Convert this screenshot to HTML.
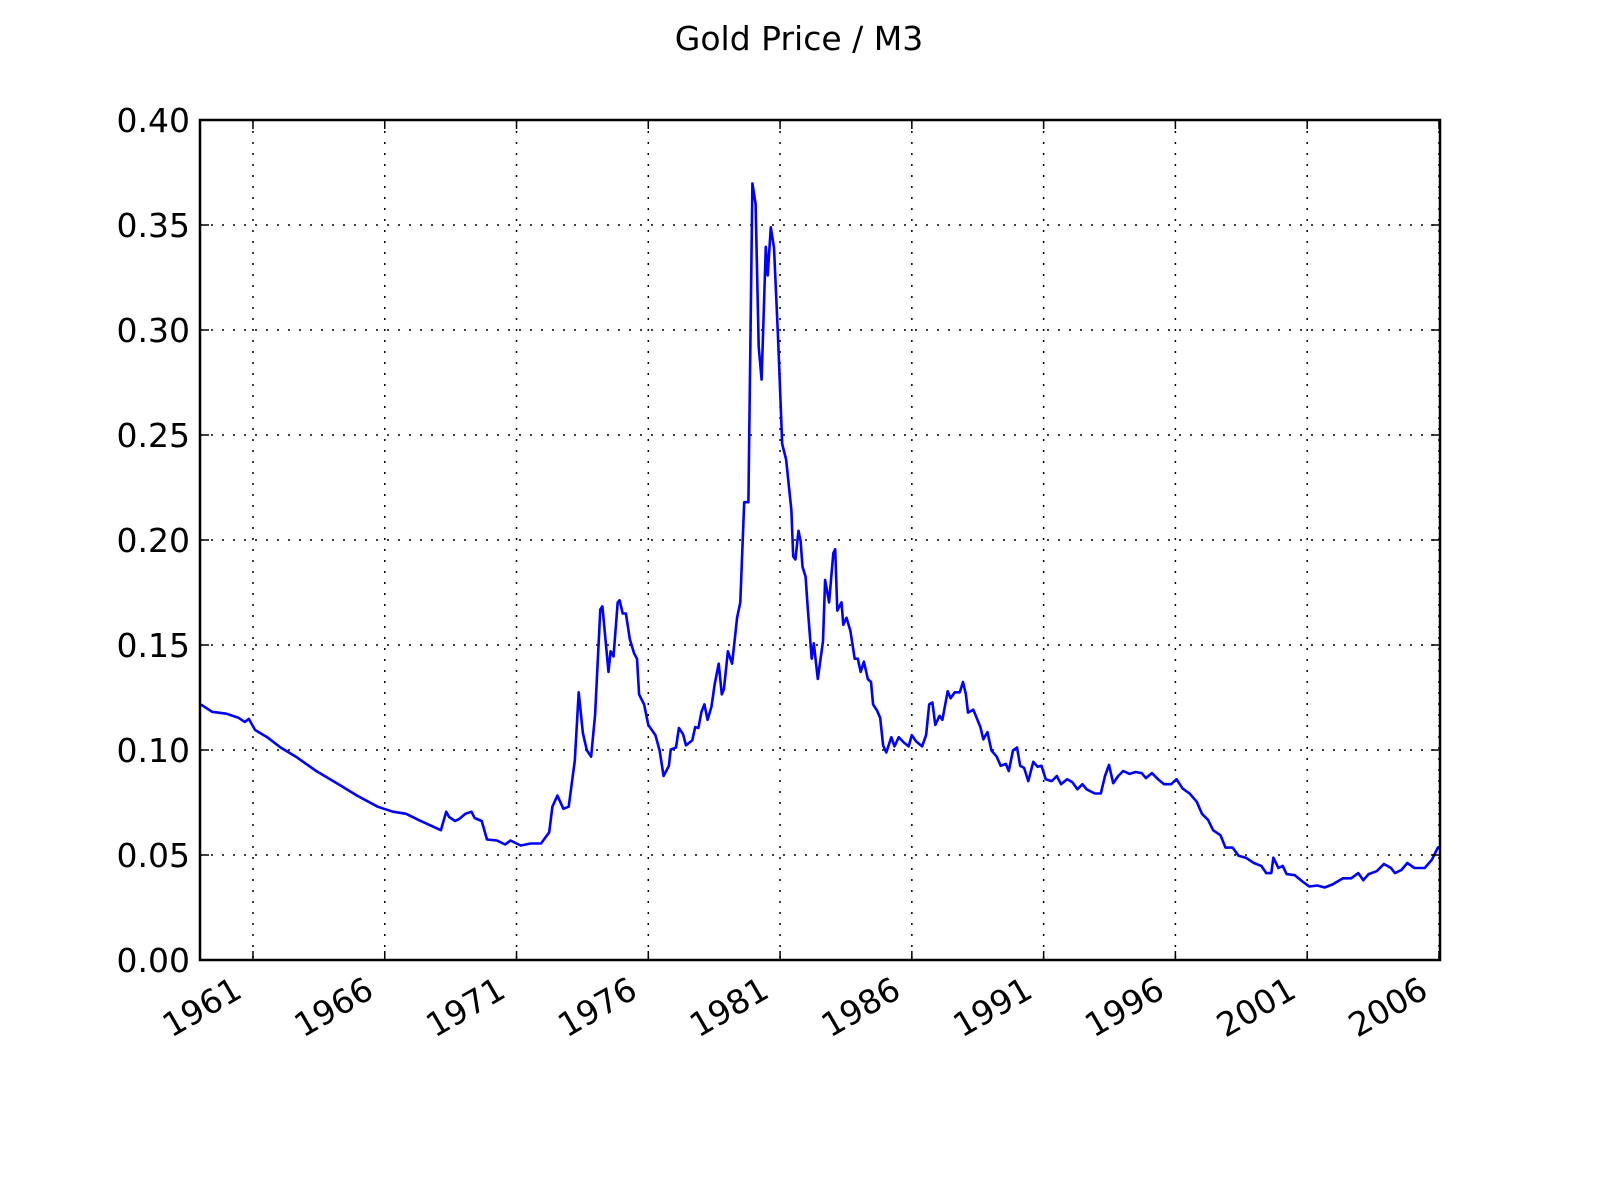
<!DOCTYPE html>
<html><head><meta charset="utf-8"><style>
html,body{margin:0;padding:0;background:#fff;}
svg{display:block;font-family:"DejaVu Sans","Liberation Sans",sans-serif;}
</style></head><body>
<svg id="chart" width="1600" height="1200" viewBox="0 0 1600 1200" xmlns="http://www.w3.org/2000/svg">
<rect width="1600" height="1200" fill="#fff"/>
<text x="799" y="50" text-anchor="middle" font-size="33">Gold Price / M3</text>
<g id="grid"></g>
<g id="series"></g>
<rect x="200" y="120" width="1240" height="840" fill="none" stroke="#000" stroke-width="2.5"/>
<g id="axes"></g>
</svg>
<script>
const years = [1959.02,1959.45,1959.99,1960.46,1960.69,1960.84,1961.08,1961.54,1962.05,1962.63,1963.40,1964.18,1964.95,1965.73,1966.31,1966.81,1967.28,1968.13,1968.33,1968.44,1968.67,1968.83,1969.06,1969.29,1969.41,1969.68,1969.88,1970.26,1970.57,1970.77,1971.16,1971.54,1971.93,1972.24,1972.36,1972.55,1972.78,1972.98,1973.21,1973.36,1973.52,1973.67,1973.83,1973.98,1974.18,1974.26,1974.49,1974.57,1974.68,1974.84,1974.91,1975.03,1975.15,1975.30,1975.46,1975.57,1975.65,1975.84,1976.00,1976.27,1976.43,1976.58,1976.78,1976.85,1977.05,1977.16,1977.32,1977.43,1977.67,1977.78,1977.90,1978.02,1978.13,1978.25,1978.40,1978.52,1978.67,1978.79,1978.87,1979.02,1979.18,1979.37,1979.49,1979.64,1979.80,1979.95,1980.07,1980.19,1980.30,1980.46,1980.53,1980.65,1980.77,1980.92,1981.08,1981.23,1981.43,1981.50,1981.58,1981.70,1981.78,1981.85,1981.97,1982.05,1982.20,1982.28,1982.43,1982.63,1982.71,1982.86,1983.02,1983.09,1983.17,1983.33,1983.40,1983.52,1983.67,1983.83,1983.95,1984.06,1984.18,1984.33,1984.45,1984.53,1984.68,1984.80,1984.91,1985.03,1985.22,1985.34,1985.50,1985.69,1985.88,1986.00,1986.16,1986.39,1986.54,1986.66,1986.78,1986.89,1987.05,1987.16,1987.36,1987.47,1987.63,1987.82,1987.94,1988.05,1988.13,1988.33,1988.44,1988.60,1988.71,1988.87,1989.02,1989.22,1989.37,1989.57,1989.68,1989.84,1989.99,1990.11,1990.26,1990.42,1990.61,1990.77,1990.92,1991.08,1991.31,1991.50,1991.66,1991.89,1992.09,1992.28,1992.47,1992.63,1992.94,1993.17,1993.33,1993.48,1993.64,1993.83,1994.02,1994.26,1994.49,1994.72,1994.88,1995.11,1995.34,1995.57,1995.84,1996.04,1996.27,1996.54,1996.81,1997.01,1997.24,1997.43,1997.71,1997.90,1998.17,1998.40,1998.67,1998.98,1999.26,1999.45,1999.64,1999.72,1999.91,2000.07,2000.22,2000.53,2000.81,2001.08,2001.39,2001.66,2001.97,2002.36,2002.67,2002.94,2003.13,2003.33,2003.64,2003.91,2004.18,2004.33,2004.57,2004.80,2005.07,2005.46,2005.73,2005.96,2006.04];
const values = [0.1217,0.1182,0.1173,0.1153,0.1134,0.1148,0.1095,0.1061,0.1012,0.0968,0.0900,0.0842,0.0783,0.0730,0.0706,0.0696,0.0667,0.0618,0.0706,0.0681,0.0662,0.0672,0.0696,0.0706,0.0676,0.0662,0.0574,0.0569,0.0550,0.0569,0.0545,0.0555,0.0555,0.0608,0.0730,0.0783,0.0720,0.0730,0.0949,0.1275,0.1080,0.0998,0.0968,0.1168,0.1669,0.1684,0.1372,0.1470,0.1445,0.1703,0.1713,0.1650,0.1650,0.1528,0.1460,0.1435,0.1265,0.1217,0.1119,0.1071,0.0998,0.0876,0.0925,0.1002,0.1012,0.1105,0.1075,0.1022,0.1046,0.1109,0.1105,0.1182,0.1217,0.1144,0.1207,0.1314,0.1411,0.1265,0.1289,0.1470,0.1411,0.1630,0.1703,0.2180,0.2180,0.3698,0.3601,0.2920,0.2764,0.3396,0.3260,0.3489,0.3392,0.2968,0.2457,0.2384,0.2141,0.1922,0.1907,0.2044,0.1995,0.1873,0.1825,0.1679,0.1435,0.1508,0.1338,0.1518,0.1810,0.1703,0.1937,0.1956,0.1664,0.1703,0.1596,0.1630,0.1567,0.1435,0.1435,0.1372,0.1421,0.1338,0.1324,0.1217,0.1187,0.1153,0.1022,0.0988,0.1061,0.1017,0.1061,0.1036,0.1017,0.1071,0.1041,0.1017,0.1071,0.1217,0.1226,0.1119,0.1163,0.1144,0.1280,0.1246,0.1275,0.1275,0.1324,0.1265,0.1178,0.1192,0.1158,0.1109,0.1051,0.1085,0.0998,0.0968,0.0925,0.0934,0.0900,0.0998,0.1012,0.0925,0.0915,0.0852,0.0944,0.0920,0.0925,0.0861,0.0852,0.0876,0.0837,0.0861,0.0847,0.0813,0.0837,0.0813,0.0793,0.0793,0.0876,0.0929,0.0842,0.0876,0.0900,0.0886,0.0895,0.0890,0.0866,0.0890,0.0861,0.0837,0.0837,0.0861,0.0817,0.0793,0.0754,0.0696,0.0667,0.0618,0.0594,0.0535,0.0535,0.0496,0.0487,0.0462,0.0448,0.0414,0.0414,0.0487,0.0438,0.0448,0.0409,0.0404,0.0375,0.0350,0.0355,0.0345,0.0360,0.0389,0.0389,0.0414,0.0380,0.0409,0.0423,0.0457,0.0438,0.0414,0.0428,0.0462,0.0438,0.0438,0.0477,0.0535,0.0535];
const xTicks = [1961,1966,1971,1976,1981,1986,1991,1996,2001,2006];
const yTicks = [0,0.05,0.10,0.15,0.20,0.25,0.30,0.35,0.40];
const yTickLabels = ["0.00","0.05","0.10","0.15","0.20","0.25","0.30","0.35","0.40"];

const NS="http://www.w3.org/2000/svg";
const X0=200,X1=1440,Y0=960,Y1=120,XMIN=1958.99,XMAX=2006.04,YMIN=0,YMAX=0.4;
function xs(v){return X0+(v-XMIN)/(XMAX-XMIN)*(X1-X0);}
function ys(v){return Y0-(v-YMIN)/(YMAX-YMIN)*(Y0-Y1);}
function mk(tag,attrs,parent){const e=document.createElementNS(NS,tag);for(const k in attrs)e.setAttribute(k,attrs[k]);parent.appendChild(e);return e;}
const grid=document.getElementById('grid'),axes=document.getElementById('axes'),series=document.getElementById('series');
xTicks.forEach(t=>{
  const x=xs(t);
  const g=mk('line',{x1:x,x2:x,y1:Y1,y2:Y0,stroke:'#000','stroke-width':1.5,'stroke-dasharray':'2,9'},grid);
  
  
  const tk=mk('path',{d:`M${x},${Y0}v-9M${x},${Y1}v9`,stroke:'#000','stroke-width':1.5},axes);
  
  
  const lb=mk('text',{x:x-9,y:996,'text-anchor':'end','font-size':33,transform:`rotate(-30 ${x-9} 996)`},axes);
  lb.textContent=t;
  
  
});
yTicks.forEach((t,i)=>{
  const y=ys(t);
  const g=mk('line',{x1:X0,x2:X1,y1:y,y2:y,stroke:'#000','stroke-width':1.5,'stroke-dasharray':'2,9'},grid);
  
  
  const tk=mk('path',{d:`M${X0},${y}h9M${X1},${y}h-9`,stroke:'#000','stroke-width':1.5},axes);
  
  
  const lb=mk('text',{x:190,y:y+12,'text-anchor':'end','font-size':33},axes);
  lb.textContent=yTickLabels[i];
  
  
});
const pts=years.map((yr,i)=>xs(yr).toFixed(1)+','+ys(values[i]).toFixed(1)).join(' ');
const line=mk('polyline',{points:pts,fill:'none',stroke:'#0000ff','stroke-width':2.6,'stroke-linejoin':'round'},series);


</script>
</body></html>
